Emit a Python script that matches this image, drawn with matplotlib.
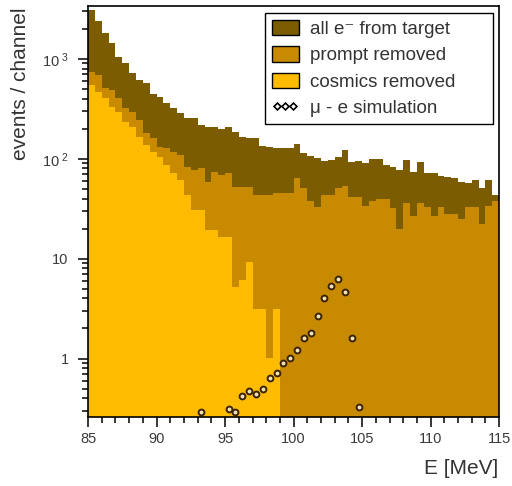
import numpy as np
import matplotlib
matplotlib.use("Agg")
import matplotlib.pyplot as plt
from matplotlib.patches import Patch
from matplotlib.lines import Line2D
from matplotlib.ticker import FixedLocator, FixedFormatter, NullFormatter

plt.rcParams['font.family'] = ['Liberation Sans', 'DejaVu Sans']

# energy binning: 0.5 MeV channels from 85 to 115 MeV
e_lo, e_hi, bin_w = 85.0, 115.0, 0.5

# all e- from target (events / channel)
all_counts = [3100, 2400, 1820, 1440, 1040, 910, 720, 615, 570, 445,
              415, 360, 320, 285, 255, 255, 220, 210, 210, 200,
              210, 185, 165, 160, 161, 134, 131, 128, 128, 128,
              140, 114, 106, 101, 95, 97, 104, 122, 92, 95,
              90, 99, 99, 86, 82, 77, 97, 73, 92, 72,
              72, 67, 65, 64, 58, 57, 61, 51, 61, 43]

# prompt removed
prompt_counts = [739, 690, 511, 488, 405, 322, 293, 244, 181, 161,
                 131, 128, 116, 109, 82, 77, 80, 58, 73, 69,
                 72, 52, 52, 52, 43, 43, 43, 45, 45, 45,
                 64, 51, 38, 33, 43, 43, 51, 54, 41, 41,
                 34, 38, 40, 40, 32, 20, 36, 27, 36, 33,
                 27, 33, 28, 28, 25, 33, 33, 22, 34, 38]

# cosmics removed
cosmic_counts = [547, 466, 405, 330, 293, 233, 207, 165, 137, 116,
                 104, 86, 72, 61, 43, 30.5, 30.5, 19.2, 19.2, 16.4,
                 16.4, 5.15, 6.06, 9.18, 3.17, 3.17, 1.02, 3.17, 0, 0,
                 0, 0, 0, 0, 0, 0, 0, 0, 0, 0,
                 0, 0, 0, 0, 0, 0, 0, 0, 0, 0,
                 0, 0, 0, 0, 0, 0, 0, 0, 0, 0]

# mu -> e simulation
sim_e = [93.25, 95.25, 95.75, 96.25, 96.75, 97.25, 97.75, 98.25, 98.75, 99.25,
         99.75, 100.25, 100.75, 101.25, 101.75, 102.25, 102.75, 103.25, 103.75,
         104.25, 104.75]
sim_y = [0.29, 0.315, 0.29, 0.42, 0.47, 0.44, 0.50, 0.645, 0.71, 0.91,
         1.02, 1.23, 1.59, 1.82, 2.64, 4.0, 5.27, 6.2, 4.59,
         1.62, 0.33]

c_all = '#7b5c00'
c_prompt = '#c88a00'
c_cosmic = '#ffbb00'

edges = np.arange(e_lo, e_hi + bin_w / 2, bin_w)

fig = plt.figure(figsize=(5.12, 4.86), dpi=100)
ax = fig.add_axes([0.172, 0.142, 0.803, 0.846])

ax.stairs(all_counts, edges, fill=True, color=c_all, baseline=0)
ax.stairs(prompt_counts, edges, fill=True, color=c_prompt, baseline=0)
ax.stairs(cosmic_counts, edges, fill=True, color=c_cosmic, baseline=0)
ax.plot(sim_e, sim_y, 'o', ms=4.2, mfc='#f3e2b8', mec='#3a2400', mew=1.4)

ax.set_yscale('log')
ax.set_xlim(e_lo, e_hi)
ax.set_ylim(0.26, 3400)

ax.xaxis.set_major_locator(FixedLocator([85, 90, 95, 100, 105, 110, 115]))
ax.xaxis.set_minor_locator(FixedLocator(np.arange(85, 116, 1)))
ax.yaxis.set_major_locator(FixedLocator([1, 10, 100, 1000]))
ax.yaxis.set_major_formatter(FixedFormatter(['1', '10', r'$\mathregular{10^{\ 2}}$',
                                             r'$\mathregular{10^{\ 3}}$']))
minor_y = [m * 10.0 ** d for d in range(-1, 4) for m in range(2, 10)]
ax.yaxis.set_minor_locator(FixedLocator(minor_y))
ax.yaxis.set_minor_formatter(NullFormatter())

ax.tick_params(which='both', direction='out', colors='black', labelcolor='#3a3a3a',
               labelsize=10.5, width=1.1)
ax.tick_params(which='major', length=7, pad=4)
ax.tick_params(which='minor', length=4)
ax.tick_params(axis='y', which='major', pad=7)
for s in ax.spines.values():
    s.set_linewidth(1.2)

fig.text(0.04, 1 - 7 / 486, 'events / channel', rotation=90, ha='center', va='top',
         fontsize=15, color='#333333')
fig.text(498 / 512, 1 - 468 / 486, 'E [MeV]', ha='right', va='center',
         fontsize=15, color='#333333')

handles = [Patch(facecolor=c_all, edgecolor='black', lw=1),
           Patch(facecolor=c_prompt, edgecolor='black', lw=1),
           Patch(facecolor=c_cosmic, edgecolor='black', lw=1),
           Line2D([], [], color='black', lw=1, marker='D', ms=3.5, mfc='white',
                  mec='black', mew=1.2)]
labels = ['all e\u207b from target', 'prompt removed', 'cosmics removed',
          '\u03bc - e simulation']
leg = ax.legend(handles, labels, loc='upper left',
                bbox_to_anchor=(265 / 512, 1 - 126 / 486, 228 / 512, 113 / 486),
                bbox_transform=fig.transFigure, mode='expand',
                fontsize=13.5, frameon=True, fancybox=False,
                edgecolor='black', framealpha=1, borderaxespad=0, borderpad=0.35,
                handlelength=1.45, handleheight=0.9, handletextpad=0.6,
                labelspacing=0.44, numpoints=3)
leg.get_frame().set_linewidth(1.0)
for t in leg.get_texts():
    t.set_color('#333333')

fig.savefig('out.png', dpi=100)
